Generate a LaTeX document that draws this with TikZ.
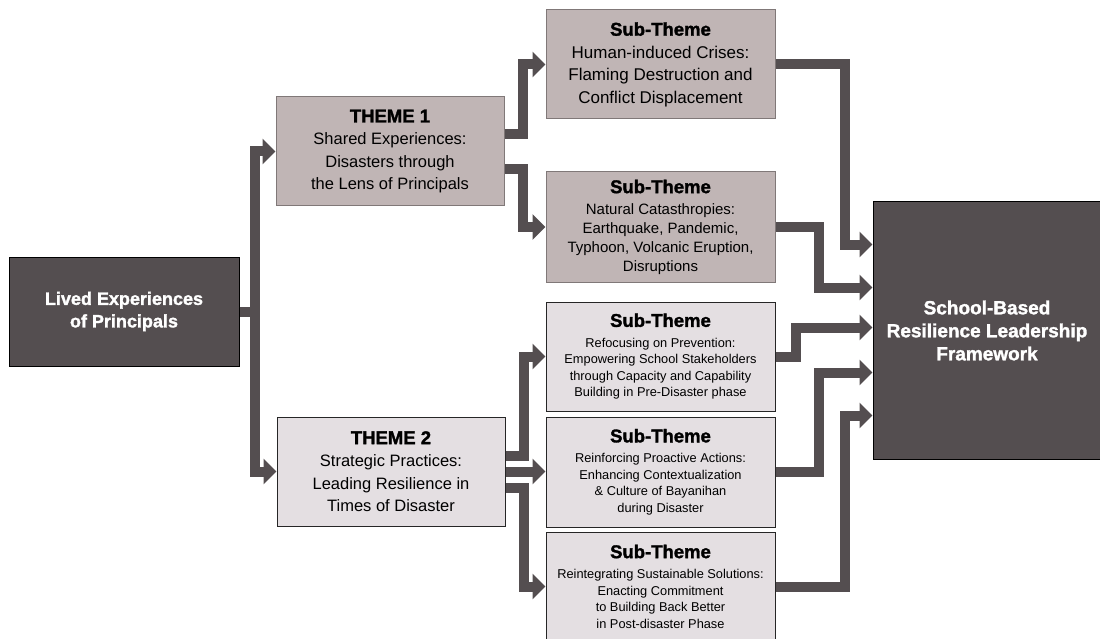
\documentclass[tikz,border=0pt]{standalone}
\usepackage{fontspec}
\setmainfont{Liberation Sans}
\newfontfamily\heavyfont{Liberation Sans}[BoldFeatures={FakeBold=1.6}]
\usetikzlibrary{arrows.meta, positioning}
\definecolor{lep-dark}{RGB}{84, 78, 80}
\definecolor{lep-taupe}{RGB}{192, 181, 181}
\definecolor{lep-light}{RGB}{228, 223, 226}
\definecolor{lep-edge}{RGB}{128, 120, 120}
\newcommand{\boxhead}[1]{{\fontsize{18.5}{22}\selectfont\heavyfont\bfseries #1}}

\begin{document}
\begin{tikzpicture}[x=1pt, y=-1pt,
  darkbox/.style={rectangle, draw=black, fill=lep-dark, text=white, line width=1pt,
                  minimum width=230pt, minimum height=109pt, inner sep=2pt, align=center,
                  font=\fontsize{18}{22.5}\selectfont\heavyfont\bfseries},
  themebox/.style={rectangle, draw=lep-edge, fill=lep-taupe, line width=1pt,
                   minimum width=228pt, minimum height=109pt, inner sep=2pt, align=center,
                   font=\fontsize{16.5}{22.5}\selectfont},
  lightbox/.style={themebox, draw=black!85, fill=lep-light},
  smallbox/.style={lightbox, font=\fontsize{12.8}{16.5}\selectfont},
  bar/.style={line width=10pt, color=lep-dark},
  arr/.style={bar, -{Triangle[length=13pt, width=25pt]}}
]
  \useasboundingbox (0,0) rectangle (1100,639);

  \node[darkbox] (lived) at (124,311.5) {Lived Experiences\\of Principals};
  \node[themebox] (theme1) at (390,151.5)
    {\boxhead{THEME 1}\\Shared Experiences:\\Disasters through\\the Lens of Principals};
  \node[lightbox] (theme2) at (391,471.5)
    {\boxhead{THEME 2}\\Strategic Practices:\\Leading Resilience in\\Times of Disaster};

  \node[themebox, minimum width=229pt, font=\fontsize{17}{22.5}\selectfont] (sub1) at (660.5,64.5)
    {\boxhead{Sub-Theme}\\Human-induced Crises:\\Flaming Destruction and\\Conflict Displacement};
  \node[themebox, minimum width=229pt, minimum height=110pt, font=\fontsize{15}{19}\selectfont] (sub2) at (660.5,227)
    {\boxhead{Sub-Theme}\\[2pt]Natural Catasthropies:\\Earthquake, Pandemic,\\Typhoon, Volcanic Eruption,\\Disruptions};
  \node[smallbox, minimum width=229pt] (sub3) at (660.5,356.5)
    {\boxhead{Sub-Theme}\\[4pt]Refocusing on Prevention:\\Empowering School Stakeholders\\through Capacity and Capability\\Building in Pre-Disaster phase};
  \node[smallbox, minimum width=229pt, minimum height=110pt] (sub4) at (660.5,472)
    {\boxhead{Sub-Theme}\\[4pt]Reinforcing Proactive Actions:\\Enhancing Contextualization\\\& Culture of Bayanihan\\during Disaster};
  \node[smallbox, minimum width=229pt] (sub5) at (660.5,586.5)
    {\boxhead{Sub-Theme}\\[4pt]Reintegrating Sustainable Solutions:\\Enacting Commitment\\to Building Back Better\\in Post-disaster Phase};

  \node[darkbox, minimum width=228pt, minimum height=257pt, font=\fontsize{19}{23}\selectfont\heavyfont\bfseries] (frame) at (987,330.5)
    {School-Based\\Resilience Leadership\\Framework};

  % lived experiences to themes
  \draw[bar] (lived.east) -- ++(15,0) coordinate (trunk);
  \draw[arr] (trunk) |- (theme1.west);
  \draw[arr] (trunk) |- (theme2.west);

  % themes to sub-themes
  \draw[arr] ([yshift=17pt]theme1.east) -- ++(18,0) |- (sub1.west);
  \draw[arr] ([yshift=-18pt]theme1.east) -- ++(18,0) |- (sub2.west);
  \draw[arr] ([yshift=16pt]theme2.east) -- ++(18,0) |- (sub3.west);
  \draw[arr] (theme2.east) -- (theme2.east -| sub4.west);
  \draw[arr] ([yshift=-16pt]theme2.east) -- ++(18,0) |- (sub5.west);

  % sub-themes to framework
  \draw[arr] (sub1.east) -- ++(69,0) |- ([yshift=86pt]frame.west);
  \draw[arr] (sub2.east) -- ++(43,0) |- ([yshift=43pt]frame.west);
  \draw[arr] (sub3.east) -- ++(20,0) |- ([yshift=3pt]frame.west);
  \draw[arr] (sub4.east) -- ++(43,0) |- ([yshift=-42pt]frame.west);
  \draw[arr] (sub5.east) -- ++(69,0) |- ([yshift=-85pt]frame.west);
\end{tikzpicture}
\end{document}
